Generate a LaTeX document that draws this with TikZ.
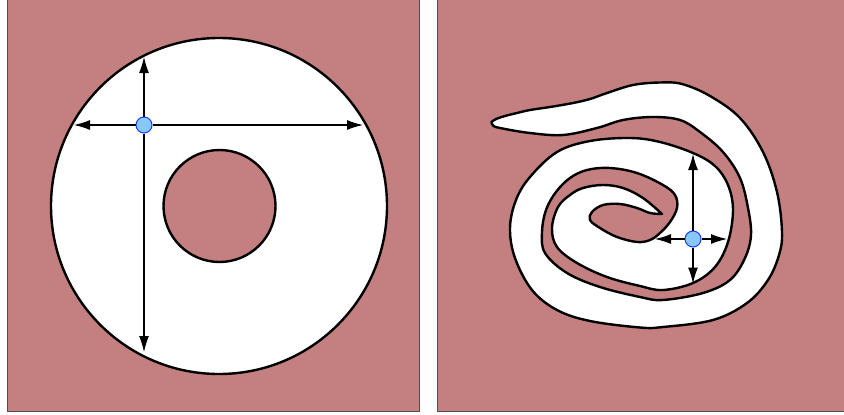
\documentclass[tikz,border=0pt]{standalone}
\usetikzlibrary{arrows.meta}
\definecolor{rose}{RGB}{196,128,128}
\definecolor{dotfill}{RGB}{135,200,255}
\definecolor{dotline}{RGB}{30,60,255}
\definecolor{framegray}{RGB}{80,80,80}
\begin{document}
\begin{tikzpicture}[x=1pt,y=-1pt,
  panel/.style={fill=rose, draw=framegray, line width=1pt},
  outline/.style={draw=black, line width=2.4pt, line join=round},
  dimarrow/.style={draw=black, line width=1.1pt, -{Latex[length=16pt,width=10pt]}},
  dot/.style={circle, fill=dotfill, draw=dotline, line width=1pt, minimum size=16pt, inner sep=0pt}]
\useasboundingbox (0,0) rectangle (844,415);
% panels
\path[panel] (7,-5) rectangle (419.5,411.5);
\path[panel] (437.5,-5) rectangle (850,411.5);
% left: annulus
\path[fill=white, outline] (219,206) circle[radius=168];
\path[fill=rose, outline] (219.5,206) circle[radius=56];
\node[dot] (L) at (144,125) {};
\coordinate (Ltop) at (144,57);
\coordinate (Lbot) at (144,352);
\coordinate (Lleft) at (74,125);
\coordinate (Lright) at (363,125);
\draw[dimarrow] (L) -- (Ltop);
\draw[dimarrow] (L) -- (Lbot);
\draw[dimarrow] (L) -- (Lleft);
\draw[dimarrow] (L) -- (Lright);
% right: spiral band
\path[fill=white, outline]
  plot[smooth, tension=0.6] coordinates {
  (491.5,122) (496,119) (505,116) (517,113) (530,110) (550,107) (573,103)
  (590,99) (607,93) (633,85) (660,82.5) (682,84) (710,96) (740,118)
  (763,152) (777,192) (782,232) (779,255) (768,280) (747,303) (713,320)
  (663,327) (640,327.5) (590,321) (557,310) (532,290) (515,258) (510,228)
  (516,200) (530,177) (557,152) (590,141) (630,138) (660,142) (693,153)
  (715,166) (728,185) (733,210) (728,242) (715,267) (693,283) (663,290)
  (640,286) (607,277) (577,263) (557,247) (552,228) (558,207) (570,195)
  (583,188) (603,185) (623,188) (643,198) (662,214)}
  -- plot[smooth, tension=0.6] coordinates {
  (662,214) (650,213) (637,208) (620,204) (603,205) (592,212) (590,220)
  (600,228) (617,237) (637,242) (650,240) (660,233) (670,222) (677,208)
  (675,195) (663,185) (637,173) (610,168) (587,170) (570,178) (556,192)
  (546,210) (542,232) (545,253) (567,273) (600,287) (640,297) (663,300)
  (703,293) (730,280) (745,258) (751,235) (748,208) (740,178) (723,152)
  (700,132) (680,120) (653,117) (623,120) (597,128) (563,135) (530,133)
  (500,128) (493,125.5) (491.5,122)}
  -- cycle;
\node[dot] (R) at (693,239) {};
\coordinate (Rtop) at (693,154);
\coordinate (Rbot) at (693,283.5);
\coordinate (Rleft) at (655,239);
\coordinate (Rright) at (727,239);
\draw[dimarrow] (R) -- (Rtop);
\draw[dimarrow] (R) -- (Rbot);
\draw[dimarrow] (R) -- (Rleft);
\draw[dimarrow] (R) -- (Rright);
\end{tikzpicture}
\end{document}
